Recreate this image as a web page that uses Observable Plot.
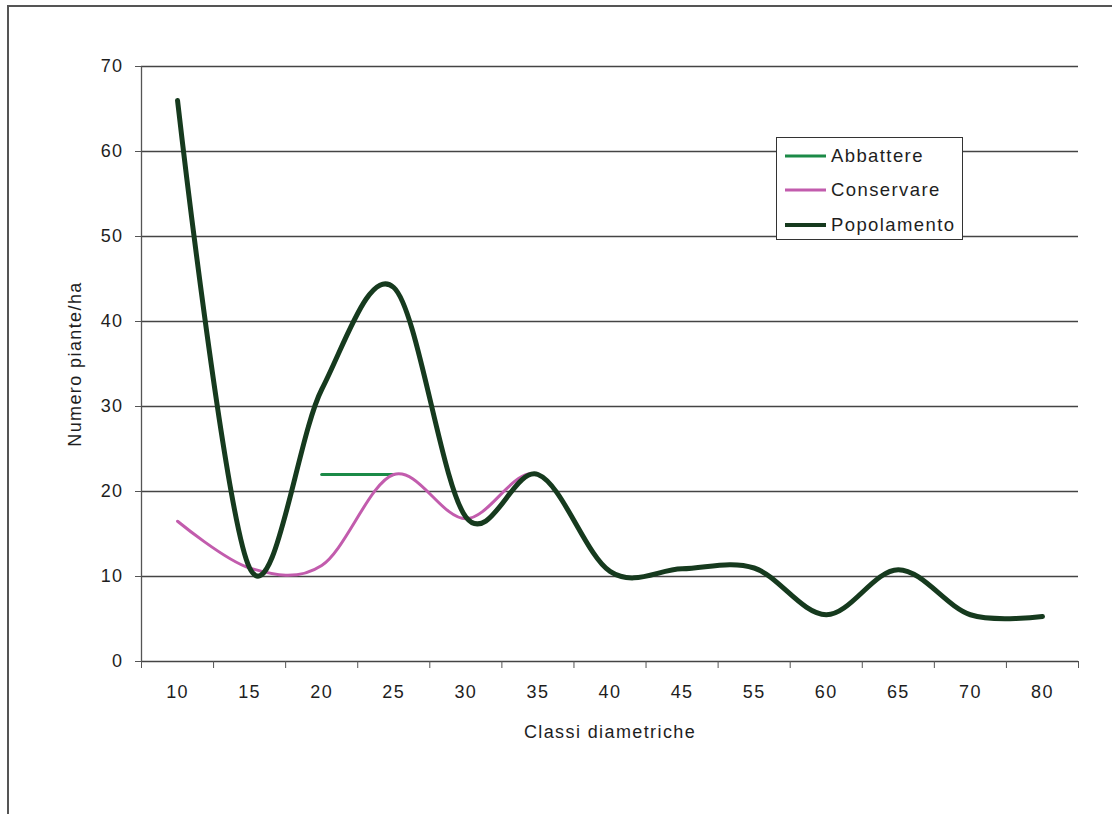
<!DOCTYPE html>
<html>
<head>
<meta charset="utf-8">
<script src="https://cdn.jsdelivr.net/npm/d3@7"></script>
<script src="https://cdn.jsdelivr.net/npm/@observablehq/plot@0.6"></script>
<style>
  html, body { margin: 0; padding: 0; background: #fff; overflow: hidden; }
  #wrap { position: relative; width: 1112px; height: 814px; font-family: "Liberation Sans", Arial, sans-serif; }
  #frame { position: absolute; left: 7px; top: 5px; right: 0; bottom: -10px; border-top: 2px solid #555; border-left: 2px solid #555; pointer-events: none; }
  #chart { position: absolute; left: 0; top: 0; }
  svg text { letter-spacing: 1.4px; }
  #legend { position: absolute; left: 776px; top: 137px; width: 185px; height: 101px; background: #fff; border: 1px solid #333; }
  .row { position: absolute; left: 0; height: 24px; display: flex; align-items: center; font-size: 18.5px; color: #1e1e1e; letter-spacing: 1.4px; }
  .row .sw { width: 41px; margin-left: 8px; margin-right: 5px; }
</style>
</head>
<body>
<div id="wrap">
  <div id="chart"></div>
  <div id="frame"></div>
  <div id="legend"></div>
</div>
<script>
// Data
const classi = ["10", "15", "20", "25", "30", "35", "40", "45", "55", "60", "65", "70", "80"];
const popolamento = [66, 11, 32, 44, 17, 22, 10.6, 10.9, 11, 5.5, 10.8, 5.5, 5.3];
const conservare = [16.5, 11, 11.3, 22, 16.8, 22, 10.6, 10.9, 11, 5.5, 10.8, 5.5, 5.3];
const abbattere = [null, null, 22, 22, null, null, null, null, null, null, null, null, null];
const yTicks = [0, 10, 20, 30, 40, 50, 60, 70];
const seriesNames = ["Abbattere", "Conservare", "Popolamento"];
const seriesColors = ["#1b8a47", "#c25cad", "#163a1e"];
const seriesWidths = [3, 3, 5];
const xTitle = "Classi diametriche";
const yTitle = "Numero piante/ha";

const idx = classi.map((_, i) => i);
const bounds = d3.range(classi.length + 1).map(i => i - 0.5);
const toRows = arr => arr.map((v, i) => ({i, v}));

const chart = Plot.plot({
  width: 1112,
  height: 814,
  marginLeft: 141,
  marginRight: 34,
  marginTop: 66,
  marginBottom: 153,
  x: {type: "linear", domain: [-0.5, classi.length - 0.5]},
  y: {domain: [0, 70]},
  style: {fontFamily: "'Liberation Sans', Arial, sans-serif", fontSize: "18px", color: "#1e1e1e", background: "transparent", overflow: "visible"},
  marks: [
    Plot.ruleY(yTicks, {stroke: "#444", strokeWidth: 1.3}),
    Plot.ruleX([-0.5], {stroke: "#555", strokeWidth: 1.3}),
    Plot.axisY({ticks: yTicks, tickSize: 6, tickPadding: 12, stroke: "#555", label: null}),
    Plot.axisX({ticks: bounds, tickSize: 7, tickFormat: () => "", stroke: "#555", label: null}),
    Plot.axisX({ticks: idx, tickSize: 0, tickPadding: 24, tickFormat: i => classi[i], label: null}),
    Plot.text([xTitle], {frameAnchor: "bottom", dy: 71, text: d => d, textAnchor: "middle", lineAnchor: "middle", fill: "#1e1e1e"}),
    Plot.text([yTitle], {frameAnchor: "left", dx: -66, text: d => d, rotate: -90, textAnchor: "middle", lineAnchor: "middle", fill: "#1e1e1e"}),
    Plot.line(toRows(abbattere), {x: "i", y: "v", curve: "cardinal", stroke: seriesColors[0], strokeWidth: seriesWidths[0]}),
    Plot.line(toRows(conservare), {x: "i", y: "v", curve: "cardinal", stroke: seriesColors[1], strokeWidth: seriesWidths[1]}),
    Plot.line(toRows(popolamento), {x: "i", y: "v", curve: "cardinal", stroke: seriesColors[2], strokeWidth: seriesWidths[2]})
  ]
});
document.getElementById("chart").appendChild(chart);

// Legend
const legend = document.getElementById("legend");
const rowTops = [6, 40, 75];
seriesNames.forEach((name, k) => {
  const row = document.createElement("div");
  row.className = "row";
  row.style.top = rowTops[k] + "px";
  row.innerHTML = `<svg class="sw" width="41" height="6"><line x1="0" x2="41" y1="3" y2="3" stroke="${seriesColors[k]}" stroke-width="${Math.min(seriesWidths[k], 4)}"/></svg><span>${name}</span>`;
  legend.appendChild(row);
});
</script>
</body>
</html>
